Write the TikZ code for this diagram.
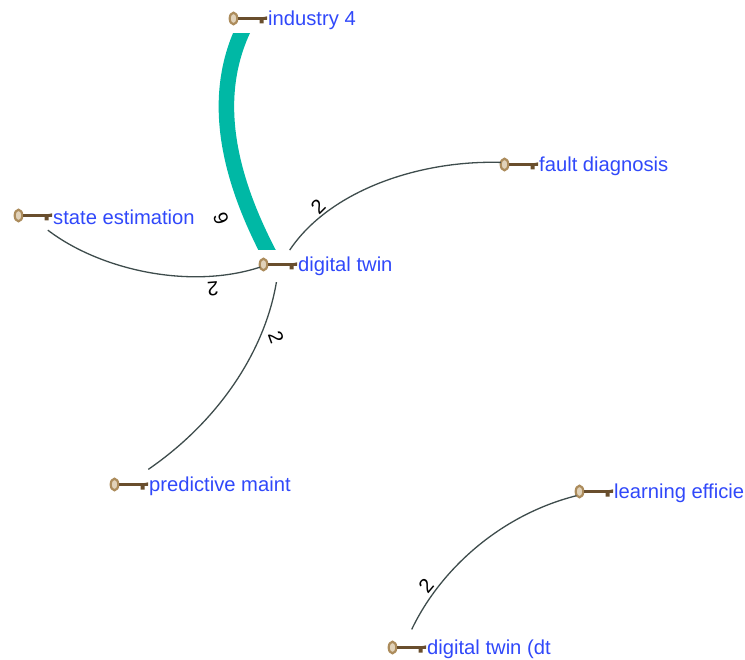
\documentclass[tikz,border=0pt]{standalone}
\usepackage{fontspec}
\setmainfont{Liberation Sans}
\definecolor{keybrown}{RGB}{105,78,45}
\definecolor{keytan}{RGB}{172,140,92}
\definecolor{keypale}{RGB}{225,210,185}
\definecolor{labblue}{RGB}{48,72,250}
\definecolor{linkgrey}{RGB}{62,76,76}
\definecolor{linkteal}{RGB}{0,184,165}
\tikzset{
  keynode/.style={circle,minimum size=36pt,inner sep=0pt},
  termlabel/.style={anchor=west,inner sep=0pt,text=labblue,font=\fontsize{20.2}{22}\selectfont},
  weightlabel/.style={inner sep=0pt,text=black,font=\fontsize{20}{22}\selectfont},
  thinlink/.style={draw=linkgrey,line width=1.3pt},
  thicklink/.style={draw=linkteal,line width=15.5pt,shorten <=-8pt,shorten >=-8pt},
  keyicon/.pic={
    \draw[draw=keytan,fill=keypale,line width=2.2pt] (-14.5,0.5) ellipse (3.8 and 5.8);
    \fill[keybrown] (-10.5,-0.9) rectangle (19,1.7);
    \fill[keybrown] (8,0.4) -- (19,-1.6) -- (19,1.7) -- (15.5,1.7) -- (15.5,5.5) -- (11.5,5.5) -- (11.5,1.7) -- cycle;
  }
}
\newcommand{\termat}[3]{%
  \node[keynode] (#1) at (#2) {};
  \pic at (#1) {keyicon};
  \node[termlabel] (#1-text) at ([xshift=20pt,yshift=-2.5pt]#1.center) {#3};
}
\begin{document}
\begin{tikzpicture}[x=1pt,y=-1pt]
\useasboundingbox (0,0) rectangle (745,660);
\termat{ind}{248,18}{industry 4}
\termat{fault}{519,164}{fault diagnosis}
\termat{state}{33,215}{state estimation}
\termat{dtw}{278,264}{digital twin}
\termat{pred}{129,484}{predictive maint}
\termat{learn}{594,491}{learning efficie}
\termat{dtdt}{407,647}{digital twin (dt}
\begin{scope}
\clip (180,34) rectangle (320,250);
\path[thicklink] (dtw.128) .. controls (222,165) and (214,90) .. (ind.-114);
\end{scope}
\path[thinlink] (dtw.50) .. controls (330,190) and (420,160) .. (fault.175);
\path[thinlink,shorten <=3pt] (state.-47) .. controls (100,270) and (190,290) .. (dtw.190);
\path[thinlink,shorten <=6pt] (pred.38) .. controls (220,420) and (265,350) .. (dtw.-95);
\path[thinlink] (dtdt.75) .. controls (440,570) and (500,515) .. (learn.195);
\node[weightlabel,rotate=110] (w6) at (221,219) {6};
\node[weightlabel,rotate=45] (w1) at (318,207) {2};
\node[weightlabel,rotate=185] (w2) at (213,289) {2};
\node[weightlabel,rotate=-70] (w3) at (276,337) {2};
\node[weightlabel,rotate=50] (w4) at (426,586) {2};
\end{tikzpicture}
\end{document}
